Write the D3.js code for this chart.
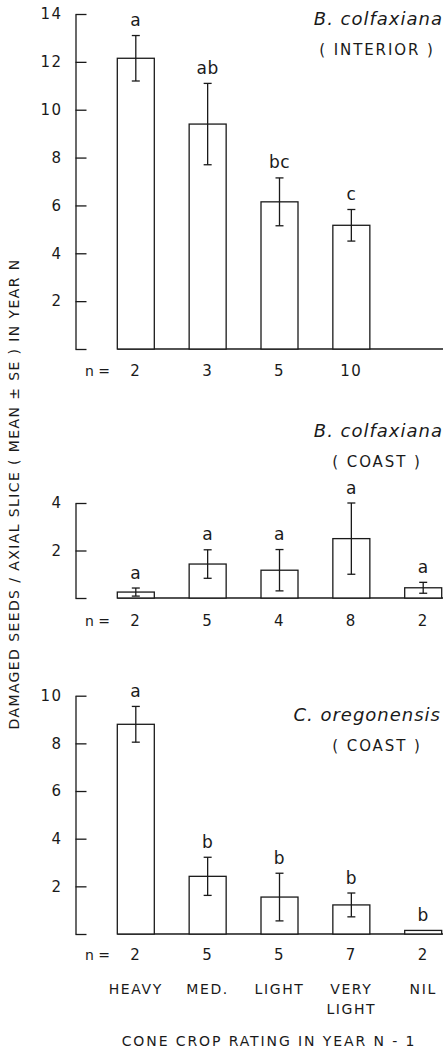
<!DOCTYPE html>
<html>
<head>
<meta charset="utf-8">
<script src="https://cdn.jsdelivr.net/npm/d3@7"></script>
<style>
  body { margin: 0; background: #fff; }
  svg { display: block; }
  text { font-family: "DejaVu Sans", sans-serif; fill: #1a1a1a; }
</style>
</head>
<body>
<div id="chart"></div>
<script>
// Cone crop categories (year N-1)
const categories = ["HEAVY", "MED.", "LIGHT", "VERY LIGHT", "NIL"];

// B. colfaxiana (interior) - no NIL category
const interiorMean = [12.15, 9.4, 6.15, 5.17];
const interiorSE = [0.95, 1.7, 1.0, 0.66];
const interiorLetters = ["a", "ab", "bc", "c"];
const interiorN = [2, 3, 5, 10];
const interiorTicks = [0, 2, 4, 6, 8, 10, 12, 14];

// B. colfaxiana (coast)
const bcCoastMean = [0.25, 1.43, 1.17, 2.5, 0.43];
const bcCoastSE = [0.17, 0.6, 0.87, 1.5, 0.23];
const bcCoastLetters = ["a", "a", "a", "a", "a"];
const bcCoastN = [2, 5, 4, 8, 2];
const bcCoastTicks = [0, 2, 4];

// C. oregonensis (coast)
const coCoastMean = [8.8, 2.42, 1.55, 1.22, 0.15];
const coCoastSE = [0.75, 0.8, 1.0, 0.5, 0];
const coCoastLetters = ["a", "b", "b", "b", "b"];
const coCoastN = [2, 5, 5, 7, 2];
const coCoastTicks = [0, 2, 4, 6, 8, 10];

const W = 443, H = 1052;
const ink = "#1a1a1a";

const svg = d3.select("#chart").append("svg")
  .attr("width", W)
  .attr("height", H);

// shared x scale for all three panels
const x = d3.scaleBand()
  .domain(categories)
  .range([117.3, 441.7])
  .paddingInner(0.485)
  .paddingOuter(0);

const axisX = 75.5;

function drawPanel(p) {
  const y = d3.scaleLinear().domain([0, p.max]).range([p.bottom, p.top]);
  const g = svg.append("g");

  // y axis, ticks point inward
  g.append("g")
    .attr("transform", `translate(${axisX},0)`)
    .call(d3.axisLeft(y)
      .tickValues(p.ticks)
      .tickSizeInner(-11)
      .tickSizeOuter(0)
      .tickPadding(13)
      .tickFormat(d => d === 0 ? "" : d))
    .call(a => a.selectAll("path, line").attr("stroke", ink).attr("stroke-width", 1.3))
    .call(a => a.selectAll("text")
      .style("font-size", "15px")
      .style("letter-spacing", "1.5px")
      .style("font-family", "DejaVu Sans, sans-serif")
      .attr("fill", ink));

  // x baseline, starting at first bar
  g.append("line")
    .attr("x1", x.range()[0]).attr("x2", W)
    .attr("y1", y(0)).attr("y2", y(0))
    .attr("stroke", ink).attr("stroke-width", 1.3);

  const rows = p.mean.map((m, i) => ({
    cat: categories[i], mean: m, se: p.se[i], letter: p.letters[i], n: p.n[i]
  }));

  // bars
  g.selectAll("rect.bar")
    .data(rows)
    .join("rect")
    .attr("class", "bar")
    .attr("x", d => x(d.cat))
    .attr("y", d => y(d.mean))
    .attr("width", x.bandwidth())
    .attr("height", d => y(0) - y(d.mean))
    .attr("fill", "#fff")
    .attr("stroke", ink)
    .attr("stroke-width", 1.3);

  // error bars
  const cap = 4;
  const eb = g.selectAll("g.err")
    .data(rows.filter(d => d.se > 0))
    .join("g")
    .attr("class", "err")
    .attr("stroke", ink)
    .attr("stroke-width", 1.3);
  eb.append("line")
    .attr("x1", d => x(d.cat) + x.bandwidth() / 2)
    .attr("x2", d => x(d.cat) + x.bandwidth() / 2)
    .attr("y1", d => y(d.mean + d.se))
    .attr("y2", d => y(d.mean - d.se));
  eb.append("line")
    .attr("x1", d => x(d.cat) + x.bandwidth() / 2 - cap)
    .attr("x2", d => x(d.cat) + x.bandwidth() / 2 + cap)
    .attr("y1", d => y(d.mean + d.se))
    .attr("y2", d => y(d.mean + d.se));
  eb.append("line")
    .attr("x1", d => x(d.cat) + x.bandwidth() / 2 - cap)
    .attr("x2", d => x(d.cat) + x.bandwidth() / 2 + cap)
    .attr("y1", d => y(d.mean - d.se))
    .attr("y2", d => y(d.mean - d.se));

  // significance letters
  g.selectAll("text.sig")
    .data(rows)
    .join("text")
    .attr("class", "sig")
    .attr("x", d => x(d.cat) + x.bandwidth() / 2)
    .attr("y", d => y(d.mean + d.se) - 9.5)
    .attr("text-anchor", "middle")
    .style("font-size", "17px")
    .style("letter-spacing", "0.5px")
    .text(d => d.letter);

  // sample sizes
  g.append("text")
    .attr("x", 85)
    .attr("y", p.nY)
    .style("font-size", "14px")
    .text("n =");
  g.selectAll("text.n")
    .data(rows)
    .join("text")
    .attr("class", "n")
    .attr("x", d => x(d.cat) + x.bandwidth() / 2)
    .attr("y", p.nY)
    .attr("text-anchor", "middle")
    .style("font-size", "15px")
    .style("letter-spacing", "1.5px")
    .text(d => d.n);

  // species / region label
  g.append("text")
    .attr("x", p.titleX)
    .attr("y", p.titleY)
    .attr("text-anchor", "end")
    .style("font-size", "18px")
    .style("font-style", "italic")
    .style("letter-spacing", "1px")
    .text(p.title);
  g.append("text")
    .attr("x", 377)
    .attr("y", p.titleY + 30)
    .attr("text-anchor", "middle")
    .style("font-size", "15px")
    .style("letter-spacing", "1.9px")
    .text(p.region);
}

drawPanel({
  mean: interiorMean, se: interiorSE, letters: interiorLetters, n: interiorN,
  ticks: interiorTicks, max: 14, top: 14, bottom: 349, nY: 376,
  title: "B. colfaxiana", region: "( INTERIOR )", titleX: 443, titleY: 25
});
drawPanel({
  mean: bcCoastMean, se: bcCoastSE, letters: bcCoastLetters, n: bcCoastN,
  ticks: bcCoastTicks, max: 4, top: 503, bottom: 598, nY: 626,
  title: "B. colfaxiana", region: "( COAST )", titleX: 443, titleY: 437
});
drawPanel({
  mean: coCoastMean, se: coCoastSE, letters: coCoastLetters, n: coCoastN,
  ticks: coCoastTicks, max: 10, top: 695.7, bottom: 934, nY: 960,
  title: "C. oregonensis", region: "( COAST )", titleX: 441, titleY: 720.5
});

// category labels under the bottom panel
const catLabels = svg.append("g");
categories.forEach(c => {
  const lines = c === "VERY LIGHT" ? ["VERY", "LIGHT"] : [c];
  const t = catLabels.append("text")
    .attr("x", x(c) + x.bandwidth() / 2)
    .attr("y", 993.5)
    .attr("text-anchor", "middle")
    .style("font-size", "14px")
    .style("letter-spacing", "1.6px");
  lines.forEach((l, i) => {
    t.append("tspan")
      .attr("x", x(c) + x.bandwidth() / 2)
      .attr("dy", i === 0 ? 0 : 20)
      .text(l);
  });
});

// axis titles
svg.append("text")
  .attr("x", 269)
  .attr("y", 1045.5)
  .attr("text-anchor", "middle")
  .style("font-size", "14px")
  .style("letter-spacing", "1.9px")
  .text("CONE CROP RATING IN YEAR N - 1");

svg.append("text")
  .attr("transform", "translate(19,494) rotate(-90)")
  .attr("text-anchor", "middle")
  .style("font-size", "14px")
  .style("letter-spacing", "1.4px")
  .text("DAMAGED SEEDS / AXIAL SLICE ( MEAN ± SE ) IN YEAR N");
</script>
</body>
</html>
